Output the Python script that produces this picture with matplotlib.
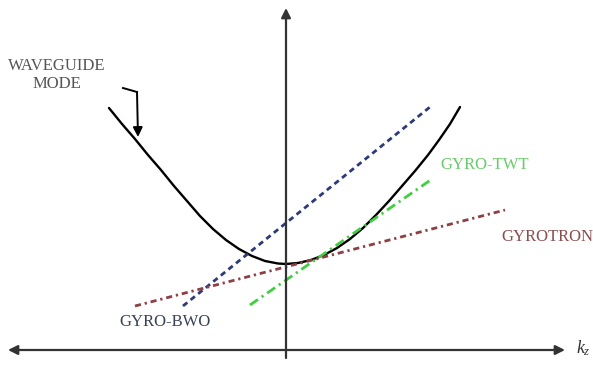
import matplotlib
matplotlib.use("Agg")
import matplotlib.pyplot as plt

plt.rcParams["font.family"] = ["Liberation Serif", "DejaVu Serif"]
plt.rcParams["mathtext.fontset"] = "custom"
plt.rcParams["mathtext.it"] = "Liberation Serif:italic"
plt.rcParams["mathtext.rm"] = "Liberation Serif"

# Waveguide mode dispersion curve (k_z, omega), schematic units
k_curve = [-177, -164, -151, -138, -125, -112, -99, -86, -73, -60, -47, -34, -21, -8,
           0, 12, 25, 38, 51, 64, 77, 90, 103, 116, 129, 142, 153, 164, 174]
w_curve = [242, 226, 211, 195, 180, 164, 149, 134, 121, 110, 101, 94, 89, 86.5,
           86, 87, 90, 95, 102, 111, 122, 135, 149, 164, 179, 195, 210, 226, 243]

# Beam lines: (k start, k end), (omega start, omega end)
bwo_k, bwo_w = [-103, 144], [44, 243]
twt_k, twt_w = [-36, 146], [45, 171]
gyrotron_k, gyrotron_w = [-151, 219], [44, 140]

# Pointer to the waveguide curve
pointer_k = [-163, -149, -148]
pointer_w = [262, 258, 213]

fig = plt.figure(figsize=(5.93, 3.69), dpi=100)
ax = fig.add_axes([0, 0, 1, 1])
ax.set_xlim(-286, 307)
ax.set_ylim(-19, 350)
ax.axis("off")

axis_color = "#333333"
# horizontal k_z axis (double headed)
ax.annotate("", xy=(279, 0), xytext=(-278, 0),
            arrowprops=dict(arrowstyle="<|-|>", color=axis_color, lw=1.6,
                            mutation_scale=14, shrinkA=0, shrinkB=0))
# vertical omega axis
ax.annotate("", xy=(0, 342), xytext=(0, -8),
            arrowprops=dict(arrowstyle="-|>", color=axis_color, lw=1.6,
                            mutation_scale=14, shrinkA=0, shrinkB=0))

ax.plot(k_curve, w_curve, color="black", lw=1.7,
        solid_capstyle="round", solid_joinstyle="round")

ax.plot(bwo_k, bwo_w, color="#2c3a78", lw=2.0, linestyle=(0, (2.0, 1.5)))
ax.plot(twt_k, twt_w, color="#3fcf3f", lw=2.0, linestyle=(0, (3.5, 1.6, 0.8, 1.6)))
ax.plot(gyrotron_k, gyrotron_w, color="#8e3f44", lw=2.0,
        linestyle=(0, (2.2, 1.4, 0.8, 1.4)))

ax.plot(pointer_k[:2], pointer_w[:2], color="black", lw=1.4)
ax.annotate("", xy=(pointer_k[2], pointer_w[2]), xytext=(pointer_k[1], pointer_w[1]),
            arrowprops=dict(arrowstyle="-|>", color="black", lw=1.4,
                            mutation_scale=14, shrinkA=0, shrinkB=0))

ax.text(-229, 284, "WAVEGUIDE", ha="center", va="center", fontsize=12, color="#555555")
ax.text(-229, 266, "MODE", ha="center", va="center", fontsize=12, color="#555555")
ax.text(199, 185, "GYRO-TWT", ha="center", va="center", fontsize=12, color="#6acb6a")
ax.text(261, 113, "GYROTRON", ha="center", va="center", fontsize=12, color="#8a4f50")
ax.text(-121, 28, "GYRO-BWO", ha="center", va="center", fontsize=12, color="#3a4255")
ax.text(290, 2, r"$k_z$", ha="left", va="center", fontsize=13, color="#333333")

fig.savefig("out.png", dpi=100)
